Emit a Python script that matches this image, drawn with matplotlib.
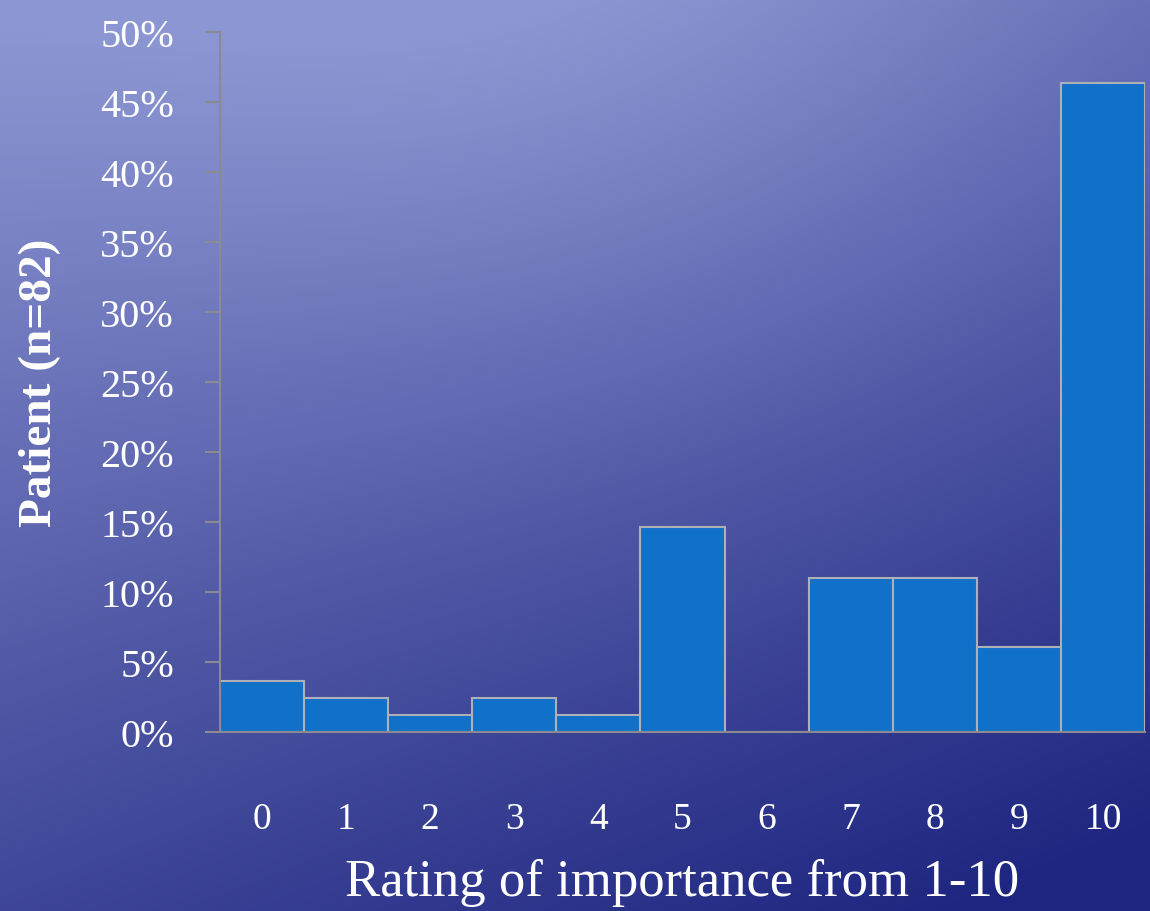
import numpy as np
import matplotlib
matplotlib.use("Agg")
import matplotlib.pyplot as plt
from matplotlib.ticker import PercentFormatter

# Ratings 0-10, share of patients (n=82)
ratings = [0, 1, 2, 3, 4, 5, 6, 7, 8, 9, 10]
counts = [3, 2, 1, 2, 1, 12, 0, 9, 9, 5, 38]
n_patients = 82
shares = [100 * c / n_patients for c in counts]

y_ticks = [0, 5, 10, 15, 20, 25, 30, 35, 40, 45, 50]

plt.rcParams['font.family'] = ['Liberation Serif', 'DejaVu Serif']

fig = plt.figure(figsize=(11.5, 9.12), dpi=100)

# slide style background: light glow at the top, dark navy towards bottom right
bg = fig.add_axes([0, 0, 1, 1], zorder=-10)
h, w = 456, 575
yy, xx = np.mgrid[0:1:h * 1j, 0:1:w * 1j]
t = 0.06 + 0.34 * xx + 0.65 * yy
t -= 0.23 * np.exp(-((xx - 0.5) ** 2 + yy ** 2) / (2 * 0.35 ** 2))
t = np.clip(t, 0, 1)[..., None]
light = np.array([0x8C, 0x96, 0xD2]) / 255
dark = np.array([0x1E, 0x25, 0x80]) / 255
bg.imshow(light * (1 - t) + dark * t, aspect='auto', extent=[0, 1, 1, 0])
bg.set_axis_off()

ax = fig.add_axes([220 / 1150, 1 - 733 / 912, 925 / 1150, 700 / 912])
ax.set_facecolor('none')

ax.bar(ratings, shares, width=1.0, color='#1170C8', edgecolor='#AEB0B8', linewidth=1.5)

ax.set_xlim(-0.5, 10.5)
ax.set_ylim(0, 50)
ax.set_yticks(y_ticks)
ax.yaxis.set_major_formatter(PercentFormatter(decimals=0))
ax.set_xticks(ratings)

for side in ['top', 'right']:
    ax.spines[side].set_visible(False)
for side in ['left', 'bottom']:
    ax.spines[side].set_color('#8A8A90')
    ax.spines[side].set_linewidth(1.5)

ax.tick_params(axis='y', length=11, width=1.5, color='#8A8A90', pad=22,
               labelsize=29, labelcolor='white')
ax.tick_params(axis='x', length=0, pad=50, labelsize=27, labelcolor='white')

ax.set_ylabel('Patient (n=82)', fontsize=34, fontweight='bold', color='white', labelpad=28)
ax.set_xlabel('Rating of importance from 1-10', fontsize=38, color='white', labelpad=16)

fig.savefig('out.png', dpi=100)
